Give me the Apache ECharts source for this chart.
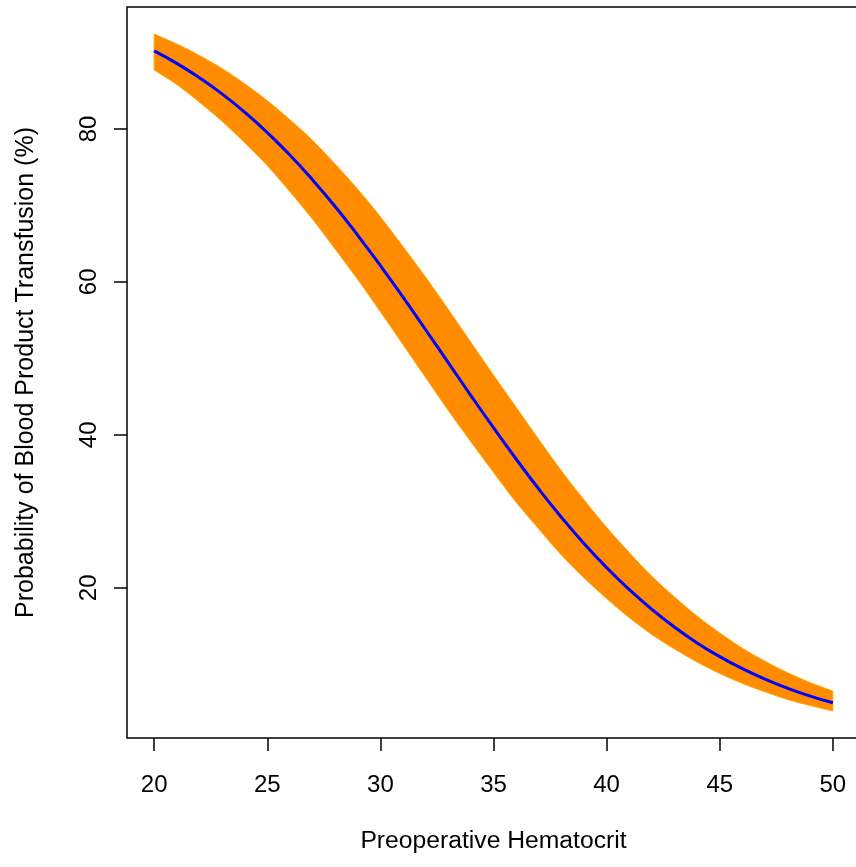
<!DOCTYPE html>
<html>
<head>
<meta charset="utf-8">
<script src="https://cdn.jsdelivr.net/npm/echarts@6/dist/echarts.min.js"></script>
<style>
  html, body { margin: 0; padding: 0; background: #fff; }
  #chart { width: 856px; height: 867px; }
</style>
</head>
<body>
<div id="chart"></div>
<script>
// values (percent)
const hematocrit = [20, 21, 22, 23, 24, 25, 26, 27, 28, 29, 30, 31, 32, 33, 34, 35,
  36, 37, 38, 39, 40, 41, 42, 43, 44, 45, 46, 47, 48, 49, 50]
const fitted = [90.2, 88.57, 86.69, 84.58, 82.19, 79.53, 76.59, 73.34, 69.85, 66.09, 62.13, 58.0, 53.74, 49.45,
  45.14, 40.93, 36.84, 32.92, 29.23, 25.79, 22.64, 19.77, 17.17, 14.85, 12.79, 11.0, 9.42, 8.05, 6.87, 5.84, 4.96]
const upper = [92.4, 91.1, 89.6, 87.9, 85.9, 83.7, 81.2, 78.5, 75.4, 72.1, 68.5, 64.6, 60.6, 56.4, 52.1, 47.8,
  43.6, 39.4, 35.3, 31.5, 27.9, 24.6, 21.5, 18.8, 16.3, 14.1, 12.1, 10.4, 8.9, 7.6, 6.5]
const lower = [87.7, 85.8, 83.5, 81.0, 78.2, 75.2, 71.8, 68.2, 64.3, 60.3, 56.1, 51.8, 47.5, 43.2, 39.1, 35.1,
  31.2, 27.7, 24.3, 21.3, 18.6, 16.1, 13.9, 12.0, 10.3, 8.8, 7.5, 6.4, 5.4, 4.6, 3.9]
const xTicks = [20, 25, 30, 35, 40, 45, 50]
const yTicks = [20, 40, 60, 80]

const font = "'Liberation Sans', Arial, Helvetica, sans-serif"
const chart = echarts.init(document.getElementById('chart'), null, { renderer: 'canvas' })

// catmull-rom through pixel points, only for drawing the band edges smoothly
function spline(pts, steps) {
  const out = []
  for (let i = 0; i < pts.length - 1; i++) {
    const p0 = pts[Math.max(i - 1, 0)]
    const p1 = pts[i]
    const p2 = pts[i + 1]
    const p3 = pts[Math.min(i + 2, pts.length - 1)]
    for (let s = 0; s < steps; s++) {
      const t = s / steps
      const t2 = t * t
      const t3 = t2 * t
      out.push([0, 1].map((k) => 0.5 * (2 * p1[k]
        + (p2[k] - p0[k]) * t
        + (2 * p0[k] - 5 * p1[k] + 4 * p2[k] - p3[k]) * t2
        + (3 * p1[k] - p0[k] - 3 * p2[k] + p3[k]) * t3)))
    }
  }
  out.push(pts[pts.length - 1])
  return out
}

function bandItem(params, api) {
  // one polygon for the whole confidence band
  if (params.dataIndex !== 0) {
    return null
  }
  const top = hematocrit.map((x, i) => api.coord([x, upper[i]]))
  const bottom = hematocrit.map((x, i) => api.coord([x, lower[i]]))
  const pts = spline(top, 8).concat(spline(bottom, 8).reverse())
  return {
    type: 'polygon',
    shape: { points: pts },
    style: { fill: '#FF8C00', stroke: '#FFA500', lineWidth: 1 }
  }
}

chart.setOption({
  animation: false,
  grid: {
    left: 127,
    top: 7,
    right: -4,
    bottom: 129,
    show: true,
    borderColor: '#000',
    borderWidth: 1.5,
    outerBoundsMode: 'none'
  },
  xAxis: {
    type: 'value',
    min: 18.8,
    max: 51.2,
    name: 'Preoperative Hematocrit',
    nameLocation: 'middle',
    nameGap: 91,
    nameTextStyle: { color: '#000', fontSize: 24.7, fontFamily: font },
    axisLine: { show: false },
    splitLine: { show: false },
    axisTick: {
      show: true,
      length: 13,
      customValues: xTicks,
      lineStyle: { color: '#000', width: 1.5 }
    },
    axisLabel: {
      customValues: xTicks,
      margin: 35,
      color: '#000',
      fontSize: 24,
      fontFamily: font
    }
  },
  yAxis: {
    type: 'value',
    min: 0.36,
    max: 95.94,
    name: 'Probability of Blood Product Transfusion (%)',
    nameLocation: 'middle',
    nameRotate: 90,
    nameGap: 88,
    nameTextStyle: { color: '#000', fontSize: 25, fontFamily: font },
    axisLine: { show: false },
    splitLine: { show: false },
    axisTick: {
      show: true,
      length: 13,
      customValues: yTicks,
      lineStyle: { color: '#000', width: 1.5 }
    },
    axisLabel: {
      customValues: yTicks,
      rotate: 90,
      margin: 26,
      color: '#000',
      fontSize: 24,
      fontFamily: font
    }
  },
  series: [
    {
      type: 'custom',
      silent: true,
      renderItem: bandItem,
      data: hematocrit.map((x, i) => [x, lower[i], upper[i]]),
      encode: { x: 0, y: [1, 2] },
      z: 1
    },
    {
      type: 'line',
      silent: true,
      data: hematocrit.map((x, i) => [x, fitted[i]]),
      symbol: 'none',
      smooth: true,
      lineStyle: { color: '#0000FF', width: 3 },
      z: 2
    }
  ]
})
</script>
</body>
</html>
